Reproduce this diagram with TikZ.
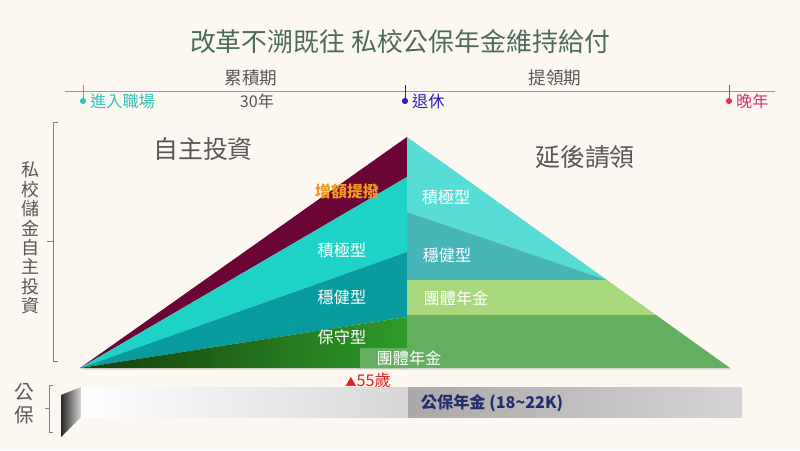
\documentclass[tikz,border=0pt]{standalone}
\usepackage{fontspec}
\setmainfont{Noto Sans CJK TC}
\usetikzlibrary{positioning,shadows}
\definecolor{bgcream}{HTML}{FCF8F1}
\definecolor{titlegreen}{HTML}{4D6B5B}
\definecolor{txtgray}{HTML}{585858}
\definecolor{maroon}{HTML}{6A0535}
\definecolor{cyanL}{HTML}{1ED3C6}
\definecolor{tealL}{HTML}{0A9B9E}
\definecolor{greenDark}{HTML}{143D0B}
\definecolor{greenL}{HTML}{2F9B2A}
\definecolor{cyanR}{HTML}{57DDD6}
\definecolor{tealR}{HTML}{47B4B8}
\definecolor{lgreenR}{HTML}{A8D87E}
\definecolor{greenR}{HTML}{63AE5F}
\definecolor{startcol}{HTML}{2EC4B6}
\definecolor{retirecol}{HTML}{2A1FB8}
\definecolor{oldcol}{HTML}{E0306A}
\definecolor{agered}{HTML}{E02020}
\definecolor{navy}{HTML}{1F2F6F}
\begin{document}
\begin{tikzpicture}[x=0.025cm, y=-0.025cm,
    dot/.style = {circle, fill, inner sep=0pt, minimum size=4.4pt},
    tl/.style = {text=txtgray, font=\fontsize{11.5}{12}\selectfont, inner sep=1pt},
    tag/.style = {text=white, font=\fontsize{11.5}{12}\selectfont},
    big/.style = {text=txtgray, font=\fontsize{17.7}{18}\selectfont},
    band/.style = {draw=none}]
	\fill[bgcream] (0,0) rectangle (800,450);
	\useasboundingbox (0,0) rectangle (800,450);
	% title
	\node[text=titlegreen, font=\fontsize{18.4}{19}\selectfont] (title) at (400,42) {改革不溯既往 私校公保年金維持給付};
	% timeline
	\coordinate (tlL) at (65,91);
	\coordinate (tlR) at (775,91);
	\draw[gray!80, line width=0.7pt] (tlL) -- (tlR);
	\node[dot, startcol] (start) at (83,101) {};
	\node[dot, retirecol] (retire) at (405,101) {};
	\node[dot, oldcol] (old) at (729,101) {};
	\coordinate (startT) at (83,85);
	\coordinate (retireT) at (405,85);
	\coordinate (oldT) at (729,85);
	\draw[startcol, line width=0.7pt] (startT) -- (start);
	\draw[retirecol, line width=0.7pt] (retireT) -- (retire);
	\draw[oldcol, line width=0.7pt] (oldT) -- (old);
	\node[tl, text=startcol, right=1.5pt of start] (startlbl) {進入職場};
	\node[tl, text=retirecol, right=1.5pt of retire] (retirelbl) {退休};
	\node[tl, text=oldcol, right=1.5pt of old] (oldlbl) {晚年};
	\node[tl, font=\fontsize{12.5}{13}\selectfont] (accum) at (251,78) {累積期};
	\node[tl] (years) at (257,101) {30年};
	\node[tl, font=\fontsize{12.5}{13}\selectfont] (payout) at (555,78) {提領期};
	% side label
	\node[text=txtgray, align=center, font=\fontsize{12.8}{13.8}\selectfont] (side) at (30,238) {私\\校\\儲\\金\\自\\主\\投\\資};
	\draw[gray, line width=0.6pt] (58,122) -- (53,122) -- (53,361) -- (58,361);
	\draw[gray, line width=0.6pt] (53,241) -- (47,241);
	% pyramid shadow
	\fill[bgcream, drop shadow={shadow xshift=1.5pt, shadow yshift=-1.2pt, opacity=0.25}] (80,368) -- (407,137) -- (730,368) -- cycle;
	% left half
	\fill[maroon] (80,368) -- (407,137) -- (407,177) -- cycle;
	\fill[cyanL] (80,368) -- (407,177) -- (407,252) -- cycle;
	\fill[tealL] (80,368) -- (407,252) -- (407,317) -- cycle;
	\shade[left color=greenDark, right color=greenL] (80,368) -- (407,317) -- (407,368) -- cycle;
	% right half
	\fill[cyanR] (407,137) -- (607,280) -- (407,212) -- cycle;
	\fill[tealR] (407,212) -- (607,280) -- (407,280) -- cycle;
	\fill[lgreenR] (407,280) -- (607,280) -- (656,315) -- (407,315) -- cycle;
	\fill[greenR] (407,315) -- (656,315) -- (730,368) -- (360,368) -- (360,348) -- (407,348) -- cycle;
	% labels
	\node[big] (ownL) at (203,149) {自主投資};
	\node[big] (delayR) at (585,157) {延後請領};
	\node[tag, text={rgb,255:red,242;green,154;blue,30}, font=\bfseries\fontsize{11.3}{12}\selectfont] (extra) at (347,191) {增額提撥};
	\node[tag] (aggL) at (342,250) {積極型};
	\node[tag] (balL) at (342,297) {穩健型};
	\node[tag] (consL) at (342,337) {保守型};
	\node[tag] (groupL) at (409,358) {團體年金};
	\node[tag] (aggR) at (446,197) {積極型};
	\node[tag] (balR) at (447,255) {穩健型};
	\node[tag] (groupR) at (456,298) {團體年金};
	\node[text=agered, font=\fontsize{11.5}{12}\selectfont] (age) at (368,380) {{\fontsize{8}{8}\selectfont ▲}55歲};
	% labor insurance
	\node[text=txtgray, align=center, font=\fontsize{14}{16}\selectfont] (gov) at (24,404) {公\\保};
	\draw[gray, line width=0.6pt] (53,385) -- (49,385) -- (49,432) -- (53,432);
	\draw[gray, line width=0.6pt] (49,408) -- (45,408);
	\shade[left color={rgb,255:red,40;green,40;blue,40}, right color={rgb,255:red,215;green,215;blue,215}] (61,395) -- (81,387) -- (81,417) -- (61,437) -- cycle;
	\shade[left color=white, right color={rgb,255:red,215;green,215;blue,215}] (81,387) rectangle (408,417);
	\shade[left color={rgb,255:red,172;green,168;blue,170}, right color={rgb,255:red,214;green,212;blue,212}] (408,387) rectangle (742,417);
	\node[text=navy, font=\bfseries\fontsize{11.5}{12}\selectfont, anchor=west] (pension) at (416,403) {公保年金 (18\textasciitilde 22K)};
\end{tikzpicture}
\end{document}
